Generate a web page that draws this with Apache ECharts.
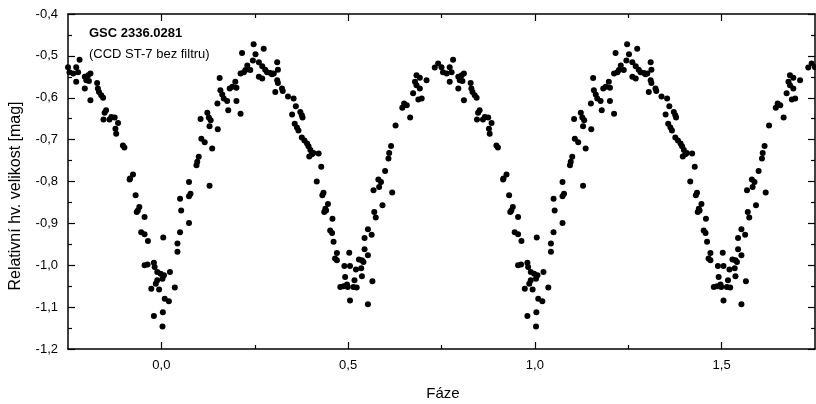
<!DOCTYPE html>
<html>
<head>
<meta charset="utf-8">
<script src="https://cdn.jsdelivr.net/npm/echarts@6/dist/echarts.min.js"></script>
<style>
html, body { margin: 0; padding: 0; background: #fff; }
#chart { width: 816px; height: 404px; }
</style>
</head>
<body>
<div id="chart"></div>
<script>
// Phase-folded light curve of GSC 2336.0281 (one cycle, phase 0..1)
const phases = [
  // primary minimum
  0.955, 0.963, 0.980, 0.982, 0.989, 0.998, 0.007, 0.023, 0.003, 0.989, 0.985, 0.973, 0.994, 0.036, 0.009, 0.020, 0.004, 0.980, 0.003, 0.005, 0.050, 0.043, 0.043,
  // rising branch
  0.050, 0.053, 0.074, 0.074, 0.078, 0.074, 0.129, 0.094, 0.096, 0.100, 0.107, 0.116, 0.136, 0.105, 0.123, 0.127, 0.132, 0.129, 0.151, 0.150,
  0.156, 0.158, 0.163, 0.167, 0.176, 0.179, 0.212, 0.201, 0.183, 0.190, 0.201, 0.198, 0.212, 0.221, 0.216,
  // first maximum and descending branch
  0.247, 0.274, 0.252, 0.245, 0.261, 0.230, 0.238, 0.225, 0.270, 0.278, 0.283, 0.292, 0.296, 0.310, 0.312, 0.261, 0.270, 0.301, 0.310, 0.312,
  0.323, 0.325, 0.305, 0.339, 0.354, 0.360, 0.350, 0.372, 0.376, 0.378, 0.357, 0.363, 0.367, 0.376, 0.383, 0.390, 0.394, 0.399, 0.403, 0.396,
  0.407, 0.421, 0.428, 0.416, 0.434, 0.431, 0.446, 0.439, 0.436, 0.441, 0.458, 0.452, 0.457, 0.461, 0.470, 0.465, 0.470,
  // secondary minimum
  0.503, 0.490, 0.505, 0.492, 0.479, 0.488, 0.497, 0.499, 0.505, 0.553, 0.563, 0.544, 0.544, 0.553, 0.529, 0.537, 0.541, 0.535, 0.521, 0.537,
  0.517, 0.565, 0.514, 0.523, 0.553,
  // rising branch
  0.568, 0.570, 0.574, 0.581, 0.588, 0.583, 0.592, 0.618, 0.599, 0.608, 0.610, 0.615, 0.627, 0.645, 0.650, 0.657, 0.666, 0.674, 0.688, 0.697,
  0.679, 0.683, 0.692, 0.710, 0.683, 0.692,
  // second maximum and descending branch
  0.732, 0.741, 0.750, 0.754, 0.764, 0.772, 0.777, 0.781, 0.772, 0.795, 0.804, 0.810, 0.799, 0.806, 0.795, 0.810, 0.828, 0.830, 0.833, 0.839,
  0.844, 0.852, 0.848, 0.845, 0.861, 0.866, 0.875, 0.884, 0.877, 0.879, 0.897, 0.901, 0.924, 0.916, 0.915, 0.931, 0.941, 0.937, 0.934, 0.955,
  0.946, 0.955, 0.964
];

const magnitudes = [
  -1.000, -0.998, -0.994, -1.004, -1.016, -1.020, -1.024, -1.016, -1.032, -1.036, -1.044, -1.056, -1.058, -1.053, -1.080, -1.086, -1.112, -1.121, -1.146, -0.934, -0.921, -0.948, -0.968,
  -0.841, -0.869, -0.899, -0.801, -0.829, -0.835, -0.810, -0.761, -0.753, -0.741, -0.698, -0.706, -0.721, -0.651, -0.636, -0.647, -0.654, -0.668, -0.675, -0.614,
  -0.553, -0.582, -0.592, -0.602, -0.608, -0.630, -0.638, -0.608, -0.578, -0.574, -0.576, -0.562, -0.542, -0.539, -0.493,
  -0.472, -0.483, -0.496, -0.511, -0.515, -0.523, -0.534, -0.534, -0.525, -0.533, -0.539, -0.541, -0.544, -0.515, -0.533, -0.550, -0.554, -0.542, -0.558, -0.565,
  -0.578, -0.584, -0.586, -0.597, -0.602, -0.620, -0.640, -0.634, -0.642, -0.647, -0.662, -0.671, -0.678, -0.695, -0.702, -0.709, -0.716, -0.725, -0.735, -0.740,
  -0.732, -0.733, -0.765, -0.800, -0.827, -0.833, -0.854, -0.865, -0.873, -0.869, -0.889, -0.917, -0.923, -0.944, -0.971, -0.984, -0.988,
  -0.970, -1.002, -1.002, -1.028, -1.052, -1.050, -1.046, -1.052, -1.084, -0.914, -0.927, -0.935, -0.962, -0.976, -0.986, -0.988, -0.992, -1.007, -1.010, -1.026,
  -1.036, -1.038, -1.052, -1.053, -1.093,
  -0.821, -0.873, -0.886, -0.795, -0.801, -0.813, -0.857, -0.826, -0.775, -0.745, -0.732, -0.715, -0.666, -0.624, -0.614, -0.618, -0.647, -0.589, -0.604, -0.602,
  -0.562, -0.546, -0.552, -0.558, -0.570, -0.578,
  -0.528, -0.518, -0.527, -0.539, -0.542, -0.527, -0.539, -0.509, -0.562, -0.550, -0.546, -0.542, -0.558, -0.560, -0.578, -0.606, -0.565, -0.578, -0.586, -0.594,
  -0.600, -0.630, -0.636, -0.652, -0.652, -0.646, -0.647, -0.660, -0.674, -0.686, -0.714, -0.719, -0.783, -0.793, -0.795, -0.833, -0.861, -0.869, -0.873, -0.885,
  -0.921, -0.926, -0.942
];

// axis ranges and tick positions
const phaseMin = -0.25, phaseMax = 1.75;
const magMin = -1.2, magMax = -0.4;
const xMajorTicks = [0, 0.5, 1.0, 1.5];
const xMinorTicks = [0.25, 0.75, 1.25];
const cycleShifts = [-1, 0, 1];

const FONT = "'Liberation Sans', Arial, sans-serif";
const fmt = v => Number(v).toFixed(1).replace('.', ',');

// repeat the folded cycle across the displayed phase range
const points = [];
cycleShifts.forEach(k => {
  phases.forEach((p, i) => {
    const x = p + k;
    if (x >= phaseMin && x <= phaseMax) points.push([x, magnitudes[i]]);
  });
});

const axisLine = { show: true, lineStyle: { color: '#000', width: 1.5 } };

function xAxisDef(position, ticks, len, withLabels, showLine) {
  return {
    type: 'value', position: position, min: phaseMin, max: phaseMax,
    splitLine: { show: false },
    axisLine: Object.assign({ onZero: false }, showLine ? axisLine : { show: false }),
    axisTick: { show: true, inside: true, length: len, customValues: ticks, lineStyle: { color: '#000', width: 1.2 } },
    axisLabel: withLabels
      ? { show: true, customValues: ticks, formatter: fmt, margin: 10, color: '#000', fontFamily: FONT, fontSize: 13 }
      : { show: false }
  };
}

function yAxisDef(position, withLabels) {
  return {
    type: 'value', position: position, min: magMin, max: magMax, interval: 0.1,
    splitLine: { show: false },
    axisLine: Object.assign({ onZero: false }, axisLine),
    axisTick: { show: true, inside: true, length: 7, lineStyle: { color: '#000', width: 1.2 } },
    minorTick: { show: true, splitNumber: 2, length: 4, lineStyle: { color: '#000', width: 1.2 } },
    axisLabel: withLabels
      ? { show: true, formatter: fmt, margin: 10, color: '#000', fontFamily: FONT, fontSize: 13 }
      : { show: false }
  };
}

const chart = echarts.init(document.getElementById('chart'), null, { renderer: 'canvas' });
chart.setOption({
  animation: false,
  backgroundColor: '#fff',
  grid: { left: 68, right: 1, top: 14, bottom: 55, containLabel: false },
  xAxis: [
    xAxisDef('bottom', xMajorTicks, 7, true, true),
    xAxisDef('bottom', xMinorTicks, 4, false, false),
    xAxisDef('top', xMajorTicks, 7, false, true),
    xAxisDef('top', xMinorTicks, 4, false, false)
  ],
  yAxis: [
    yAxisDef('left', true),
    yAxisDef('right', false)
  ],
  series: [{
    type: 'scatter',
    xAxisIndex: 0, yAxisIndex: 0,
    symbol: 'circle', symbolSize: 6,
    itemStyle: { color: '#000', opacity: 1 },
    data: points
  }],
  graphic: [
    { type: 'text', left: 89, top: 27,
      style: { text: 'GSC 2336.0281', fill: '#000', font: 'bold 13px ' + FONT } },
    { type: 'text', left: 89, top: 48,
      style: { text: '(CCD ST-7 bez filtru)', fill: '#000', font: '13px ' + FONT } },
    { type: 'text', x: 443, y: 394,
      style: { text: 'Fáze', fill: '#000', font: '15px ' + FONT, align: 'center', verticalAlign: 'middle' } },
    { type: 'text', x: 16, y: 196, rotation: Math.PI / 2,
      style: { text: 'Relativní hv. velikost [mag]', fill: '#000', font: '16px ' + FONT, align: 'center', verticalAlign: 'middle' } }
  ]
});
</script>
</body>
</html>
